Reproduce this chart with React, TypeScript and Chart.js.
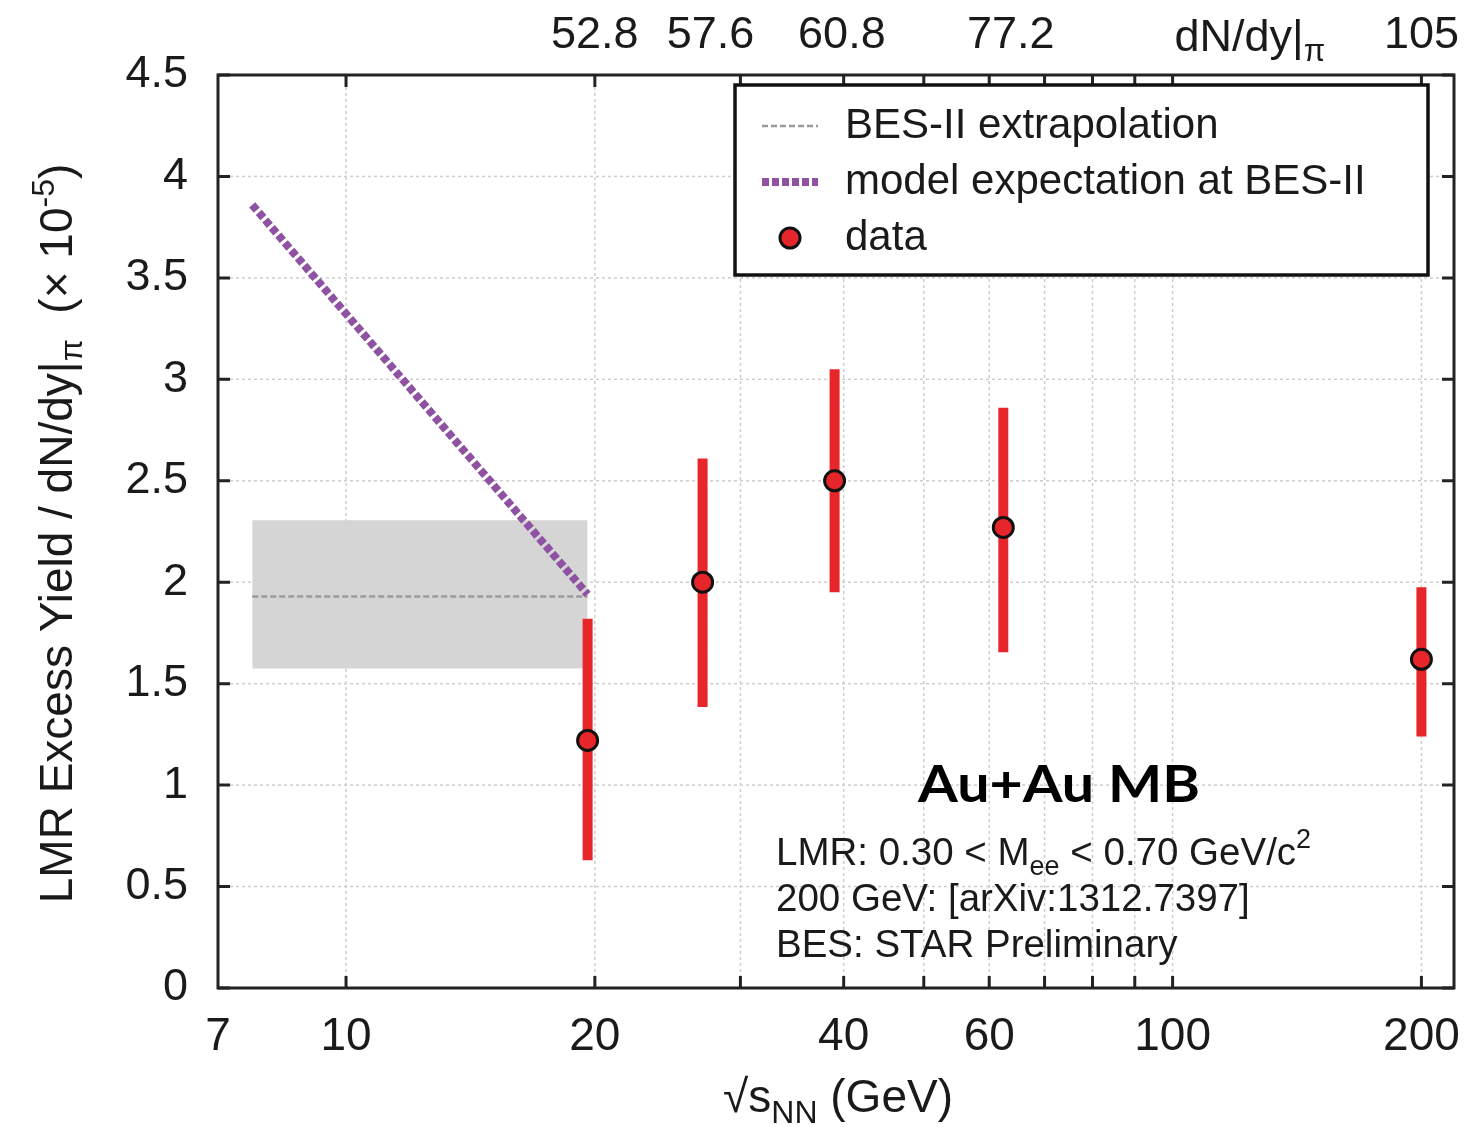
import React, { useEffect, useRef } from "react";
import { Chart, registerables } from "chart.js";

Chart.register(...registerables);

// ---- data ----
const energies = [19.6, 27, 39, 62.4, 200];
const yields = [1.22, 2.0, 2.5, 2.27, 1.62];
const errLow = [0.63, 1.385, 1.95, 1.655, 1.24];
const errHigh = [1.82, 2.61, 3.05, 2.86, 1.975];

const besRange = [7.7, 19.6];
const besCentral = 1.93;
const besBandLow = 1.575;
const besBandHigh = 2.305;
const modelX = [7.7, 19.6];
const modelY = [3.86, 1.94];

const xTickValues = [7, 10, 20, 30, 40, 50, 60, 70, 80, 90, 100, 200];
const xTickLabels = ["7", "10", "20", "", "40", "", "60", "", "", "", "100", "200"];
const yTickValues = [0, 0.5, 1, 1.5, 2, 2.5, 3, 3.5, 4, 4.5];
const topTickValues = [20, 27.6, 39.8, 63.7, 200];
const topTickLabels = ["52.8", "57.6", "60.8", "77.2", "105"];
const topTitleAt = 124;

const legendLabels = ["BES-II extrapolation", "model expectation at BES-II", "data"];
const noteLines = ["200 GeV: [arXiv:1312.7397]", "BES: STAR Preliminary"];

const FONT = "'Liberation Sans', Arial, sans-serif";
const RED = "#e6262b";
const PURPLE = "#8f52a3";

function drawSegments(ctx: CanvasRenderingContext2D, parts: { t: string; size: number; dy: number }[], x: number, y: number, align: "left" | "center") {
  let total = 0;
  for (const p of parts) {
    ctx.font = `${p.size}px ${FONT}`;
    total += ctx.measureText(p.t).width;
  }
  let cx = align === "center" ? x - total / 2 : x;
  for (const p of parts) {
    ctx.font = `${p.size}px ${FONT}`;
    ctx.fillText(p.t, cx, y + p.dy);
    cx += ctx.measureText(p.t).width;
  }
}

const decor = {
  id: "decor",
  beforeDatasetsDraw(chart: any) {
    const { ctx, chartArea: a, scales } = chart;
    ctx.save();
    ctx.strokeStyle = "#cdcdcd";
    ctx.lineWidth = 1.5;
    ctx.setLineDash([3, 3]);
    for (const v of yTickValues) {
      if (v === 0 || v === 4.5) continue;
      const y = scales.y.getPixelForValue(v);
      ctx.beginPath();
      ctx.moveTo(a.left, y);
      ctx.lineTo(a.right, y);
      ctx.stroke();
    }
    for (const v of xTickValues) {
      if (v === 7) continue;
      const x = scales.x.getPixelForValue(v);
      ctx.beginPath();
      ctx.moveTo(x, a.top);
      ctx.lineTo(x, a.bottom);
      ctx.stroke();
    }
    ctx.restore();
  },
  afterDatasetsDraw(chart: any) {
    const { ctx, chartArea: a, scales } = chart;
    ctx.save();
    ctx.strokeStyle = "#222";
    ctx.lineWidth = 3;
    ctx.setLineDash([]);
    const tl = 12;
    for (const v of yTickValues) {
      const y = scales.y.getPixelForValue(v);
      ctx.beginPath();
      ctx.moveTo(a.left, y);
      ctx.lineTo(a.left + tl, y);
      ctx.moveTo(a.right, y);
      ctx.lineTo(a.right - tl, y);
      ctx.stroke();
    }
    for (const v of xTickValues) {
      if (v === 7) continue;
      const x = scales.x.getPixelForValue(v);
      ctx.beginPath();
      ctx.moveTo(x, a.bottom);
      ctx.lineTo(x, a.bottom - tl);
      ctx.moveTo(x, a.top);
      ctx.lineTo(x, a.top + tl);
      ctx.stroke();
    }
    ctx.strokeRect(a.left, a.top, a.right - a.left, a.bottom - a.top);

    // legend box
    const lx = 735, ly = 85, lw = 693, lh = 190;
    ctx.fillStyle = "#fff";
    ctx.fillRect(lx, ly, lw, lh);
    ctx.strokeStyle = "#111";
    ctx.lineWidth = 3.5;
    ctx.strokeRect(lx, ly, lw, lh);
    const rows = [126, 182, 238];
    ctx.strokeStyle = "#9a9a9a";
    ctx.lineWidth = 2.5;
    ctx.setLineDash([6, 3]);
    ctx.beginPath();
    ctx.moveTo(762, rows[0]);
    ctx.lineTo(818, rows[0]);
    ctx.stroke();
    ctx.strokeStyle = PURPLE;
    ctx.lineWidth = 8;
    ctx.setLineDash([7, 3]);
    ctx.beginPath();
    ctx.moveTo(762, rows[1]);
    ctx.lineTo(818, rows[1]);
    ctx.stroke();
    ctx.setLineDash([]);
    ctx.beginPath();
    ctx.arc(790, rows[2], 10, 0, Math.PI * 2);
    ctx.fillStyle = RED;
    ctx.fill();
    ctx.lineWidth = 3;
    ctx.strokeStyle = "#111";
    ctx.stroke();
    ctx.fillStyle = "#1a1a1a";
    ctx.font = `42px ${FONT}`;
    ctx.textBaseline = "middle";
    ctx.textAlign = "left";
    legendLabels.forEach((t, i) => ctx.fillText(t, 845, rows[i]));

    // annotations
    ctx.textBaseline = "alphabetic";
    ctx.save();
    ctx.font = `bold 52px Lato, 'Open Sans', sans-serif`;
    ctx.fillStyle = "#000";
    const w = ctx.measureText("Au+Au MB").width;
    ctx.translate(918, 802);
    ctx.scale(282 / w, 1);
    ctx.fillText("Au+Au MB", 0, 0);
    ctx.restore();
    ctx.fillStyle = "#1a1a1a";
    drawSegments(ctx, [
      { t: "LMR: 0.30 < M", size: 38.5, dy: 0 },
      { t: "ee", size: 27, dy: 10 },
      { t: " < 0.70 GeV/c", size: 38.5, dy: 0 },
      { t: "2", size: 27, dy: -17 },
    ], 776, 865, "left");
    ctx.font = `38.5px ${FONT}`;
    noteLines.forEach((t, i) => ctx.fillText(t, 776, 911 + i * 46));

    // top axis title
    drawSegments(ctx, [
      { t: "dN/dy|", size: 45, dy: 0 },
      { t: "π", size: 31, dy: 10 },
    ], scales.x.getPixelForValue(topTitleAt), 51, "center");

    // x-axis title
    drawSegments(ctx, [
      { t: "√s", size: 46, dy: 0 },
      { t: "NN", size: 32, dy: 11 },
      { t: " (GeV)", size: 46, dy: 0 },
    ], 838, 1112, "center");

    // y-axis title
    ctx.translate(72, (a.top + a.bottom) / 2 + 2);
    ctx.rotate(-Math.PI / 2);
    drawSegments(ctx, [
      { t: "LMR Excess Yield / dN/dy|", size: 46, dy: 0 },
      { t: "π", size: 32, dy: 10 },
      { t: "  (× 10", size: 46, dy: 0 },
      { t: "-5", size: 32, dy: -18 },
      { t: ")", size: 46, dy: 0 },
    ], 0, 0, "center");
    ctx.restore();
  },
};

export default function App() {
  const ref = useRef<HTMLCanvasElement | null>(null);
  useEffect(() => {
    if (!ref.current) return;
    const errData: any[] = [];
    energies.forEach((e, i) => {
      errData.push({ x: e, y: errLow[i] }, { x: e, y: errHigh[i] }, { x: e, y: null });
    });
    const noPad = (s: any) => {
      s.paddingLeft = 0;
      s.paddingRight = 0;
    };
    const chart = new Chart(ref.current, {
      type: "line",
      data: {
        datasets: [
          {
            label: "data",
            data: energies.map((e, i) => ({ x: e, y: yields[i] })),
            showLine: false,
            pointRadius: 10,
            pointBackgroundColor: RED,
            pointBorderColor: "#111",
            pointBorderWidth: 3,
            order: 0,
          },
          {
            label: "errors",
            data: errData,
            borderColor: RED,
            borderWidth: 10,
            borderCapStyle: "butt",
            pointRadius: 0,
            spanGaps: false,
            order: 1,
          },
          {
            label: "model expectation at BES-II",
            data: modelX.map((x, i) => ({ x, y: modelY[i] })),
            borderColor: PURPLE,
            borderWidth: 8,
            borderDash: [7, 3],
            borderCapStyle: "butt",
            pointRadius: 0,
            order: 2,
          },
          {
            label: "BES-II extrapolation",
            data: besRange.map((x) => ({ x, y: besCentral })),
            borderColor: "#9a9a9a",
            borderWidth: 2.5,
            borderDash: [6, 3],
            pointRadius: 0,
            order: 3,
          },
          {
            label: "band",
            data: besRange.map((x) => ({ x, y: besBandHigh })),
            borderWidth: 0,
            borderColor: "rgba(0,0,0,0)",
            backgroundColor: "#d5d5d5",
            fill: { value: besBandLow },
            pointRadius: 0,
            order: 4,
          },
        ],
      },
      options: {
        animation: false,
        responsive: false,
        layout: { padding: { top: 0, right: 12, left: 0, bottom: 0 } },
        plugins: { legend: { display: false }, tooltip: { enabled: false } },
        scales: {
          x: {
            type: "logarithmic",
            position: "bottom",
            min: 7,
            max: 219,
            grid: { display: false },
            border: { display: false },
            afterBuildTicks: (s: any) => {
              s.ticks = xTickValues.map((v) => ({ value: v }));
            },
            afterFit: (s: any) => {
              s.height = 139;
              noPad(s);
            },
            ticks: {
              autoSkip: false,
              maxRotation: 0,
              padding: 14,
              color: "#1a1a1a",
              font: { family: FONT, size: 46 },
              callback: (v: any) => {
                const i = xTickValues.indexOf(Number(v));
                return i >= 0 ? xTickLabels[i] : "";
              },
            },
          },
          x2: {
            type: "logarithmic",
            position: "top",
            min: 7,
            max: 219,
            grid: { display: false },
            border: { display: false },
            afterBuildTicks: (s: any) => {
              s.ticks = topTickValues.map((v) => ({ value: v }));
            },
            afterFit: (s: any) => {
              s.height = 75;
              noPad(s);
            },
            ticks: {
              autoSkip: false,
              maxRotation: 0,
              padding: 4,
              color: "#1a1a1a",
              font: { family: FONT, size: 45 },
              callback: (v: any) => {
                const i = topTickValues.indexOf(Number(v));
                return i >= 0 ? topTickLabels[i] : "";
              },
            },
          },
          y: {
            type: "linear",
            min: 0,
            max: 4.5,
            grid: { display: false },
            border: { display: false },
            afterBuildTicks: (s: any) => {
              s.ticks = yTickValues.map((v) => ({ value: v }));
            },
            afterFit: (s: any) => {
              s.width = 218;
            },
            ticks: {
              padding: 22,
              color: "#1a1a1a",
              font: { family: FONT, size: 45 },
              callback: (v: any) => String(v),
            },
          },
        },
      },
      plugins: [decor],
    } as any);
    return () => chart.destroy();
  }, []);
  return (
    <div style={{ position: "fixed", left: 0, top: 0, width: 1467, height: 1127, background: "#fff" }}>
      <canvas ref={ref} width={1467} height={1127} style={{ width: 1467, height: 1127 }} />
    </div>
  );
}
